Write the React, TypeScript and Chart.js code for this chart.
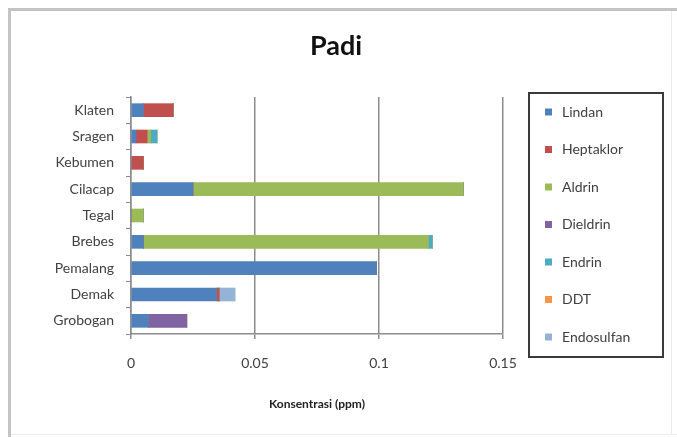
import React, { useEffect, useRef } from "react";
import { Chart, registerables } from "chart.js";

Chart.register(...registerables);

// Districts, listed top to bottom as they appear on the axis
const districts = ["Klaten", "Sragen", "Kebumen", "Cilacap", "Tegal", "Brebes", "Pemalang", "Demak", "Grobogan"];

// Residue concentration (ppm) per pesticide
const lindan = [0.005, 0.002, 0, 0.025, 0, 0.005, 0.099, 0.0345, 0.007];
const heptaklor = [0.012, 0.0045, 0.005, 0, 0, 0, 0, 0.001, 0];
const aldrin = [0, 0.0015, 0, 0.109, 0.005, 0.115, 0, 0, 0];
const dieldrin = [0, 0, 0, 0, 0, 0, 0, 0, 0.0155];
const endrin = [0, 0.0025, 0, 0, 0, 0.0015, 0, 0, 0];
const ddt = [0, 0, 0, 0, 0, 0, 0, 0, 0];
const endosulfan = [0, 0, 0, 0, 0, 0, 0, 0.0065, 0];

const xTicks = [0, 0.05, 0.1, 0.15];

const FONT = "Lato, 'Open Sans', 'DejaVu Sans', sans-serif";
const TEXT = "#404040";

const series = [
  { label: "Lindan", data: lindan, color: "#4F81BD" },
  { label: "Heptaklor", data: heptaklor, color: "#C0504D" },
  { label: "Aldrin", data: aldrin, color: "#9BBB59" },
  { label: "Dieldrin", data: dieldrin, color: "#8064A2" },
  { label: "Endrin", data: endrin, color: "#4BACC6" },
  { label: "DDT", data: ddt, color: "#F79646" },
  { label: "Endosulfan", data: endosulfan, color: "#95B3D7" },
];

// White page with the grey frame around the chart object
const framePlugin = {
  id: "frame",
  beforeDraw(chart: any) {
    const { ctx, width, height } = chart;
    ctx.save();
    ctx.fillStyle = "#ffffff";
    ctx.fillRect(0, 0, width, height);
    ctx.fillStyle = "#c4c4c4";
    ctx.fillRect(8, 8, 3, height - 8);
    ctx.fillRect(8, 8, width - 8, 3);
    ctx.fillStyle = "#ececec";
    ctx.fillRect(11, height - 3, width - 11, 1);
    ctx.fillRect(width - 6, 11, 1, height - 14);
    ctx.restore();
  },
};

// Title and the boxed legend on the right
const decorPlugin = {
  id: "decor",
  afterDraw(chart: any) {
    const { ctx } = chart;
    ctx.save();
    ctx.fillStyle = "#111111";
    ctx.font = `bold 27px ${FONT}`;
    ctx.textAlign = "center";
    ctx.textBaseline = "middle";
    ctx.fillText("Padi", 336, 46);

    ctx.strokeStyle = "#3a3a3a";
    ctx.lineWidth = 2;
    ctx.strokeRect(529, 93, 134, 264);

    ctx.font = `14px ${FONT}`;
    ctx.textAlign = "left";
    chart.data.datasets.forEach((ds: any, i: number) => {
      const y = 112 + i * 37.5;
      ctx.fillStyle = ds.backgroundColor;
      ctx.fillRect(545, y - 3.5, 7, 7);
      ctx.fillStyle = TEXT;
      ctx.fillText(ds.label, 562, y);
    });
    ctx.restore();
  },
};

export default function App() {
  const ref = useRef<HTMLCanvasElement>(null);

  useEffect(() => {
    if (!ref.current) return;
    const chart = new Chart(ref.current, {
      type: "bar",
      data: {
        labels: districts,
        datasets: series.map((s) => ({
          label: s.label,
          data: s.data,
          backgroundColor: s.color,
          borderWidth: 0,
          barThickness: 13,
        })),
      },
      options: {
        indexAxis: "y",
        responsive: false,
        animation: false,
        layout: { padding: { left: 0, right: 174, top: 97, bottom: 22 } },
        plugins: {
          legend: { display: false },
          tooltip: { enabled: false },
          title: { display: false },
        },
        scales: {
          x: {
            stacked: true,
            min: 0,
            max: 0.15,
            afterBuildTicks(scale: any) {
              scale.ticks = xTicks.map((v) => ({ value: v }));
            },
            afterFit(scale: any) {
              scale.height = 81;
            },
            ticks: {
              color: TEXT,
              font: { family: FONT, size: 14 },
              padding: 16,
              maxRotation: 0,
              callback: (v: any) => String(v),
            },
            grid: {
              color: "#8c8c8c",
              lineWidth: 1.5,
              tickLength: 5,
              drawTicks: true,
            },
            border: { color: "#8c8c8c", width: 1.5 },
            title: {
              display: true,
              text: "Konsentrasi (ppm)",
              color: "#222222",
              font: { family: FONT, size: 12, weight: "bold" },
              padding: { top: 0, bottom: 4 },
            },
          },
          y: {
            stacked: true,
            afterFit(scale: any) {
              scale.width = 131;
            },
            ticks: {
              color: TEXT,
              font: { family: FONT, size: 14 },
              padding: 12,
            },
            grid: {
              offset: true,
              drawOnChartArea: false,
              drawTicks: true,
              tickLength: 5,
              color: "#8c8c8c",
            },
            border: { color: "#8c8c8c", width: 1.5 },
          },
        },
      },
      plugins: [framePlugin, decorPlugin],
    });
    return () => chart.destroy();
  }, []);

  return (
    <div style={{ position: "fixed", left: 0, top: 0, width: 677, height: 437 }}>
      <canvas ref={ref} width={677} height={437} style={{ display: "block" }} />
    </div>
  );
}
